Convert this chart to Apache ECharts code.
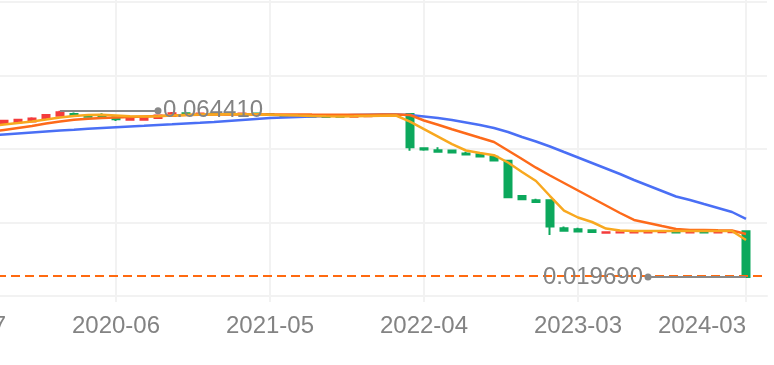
<!DOCTYPE html>
<html>
<head>
<meta charset="utf-8">
<script src="https://cdn.jsdelivr.net/npm/echarts@6/dist/echarts.min.js"></script>
<style>
html,body{margin:0;padding:0;background:#fff;}
#chart{width:774px;height:365px;}
</style>
</head>
<body>
<div id="chart"></div>
<script>
const categories = [
  '2019-07','2019-08','2019-09','2019-10','2019-11','2019-12',
  '2020-01','2020-02','2020-03','2020-04','2020-05','2020-06','2020-07','2020-08','2020-09','2020-10','2020-11','2020-12',
  '2021-01','2021-02','2021-03','2021-04','2021-05','2021-06','2021-07','2021-08','2021-09','2021-10','2021-11','2021-12',
  '2022-01','2022-02','2022-03','2022-04','2022-05','2022-06','2022-07','2022-08','2022-09','2022-10','2022-11','2022-12',
  '2023-01','2023-02','2023-03','2023-04','2023-05','2023-06','2023-07','2023-08','2023-09','2023-10','2023-11','2023-12',
  '2024-01','2024-02','2024-03'
];
const openValues = [
  0.06083,0.06100,0.06115,0.06090,0.06130,0.06150,0.06245,0.06307,0.06352,0.06290,
  0.06305,0.06265,0.06195,0.06200,0.06245,0.06298,0.06370,0.06340,0.06365,0.06345,
  0.06355,0.06365,0.06345,0.06310,0.06295,0.06285,0.06280,0.06280,0.06275,0.06290,
  0.06300,0.06320,0.06352,0.05430,0.05380,0.05370,0.05290,0.05270,0.05200,0.05096,
  0.04147,0.04030,0.04031,0.03280,0.03250,0.03225,0.03160,0.03165,0.03165,0.03168,
  0.03170,0.03178,0.03168,0.03178,0.03168,0.03172,0.03200
];
const closeValues = [
  0.06110,0.06120,0.06135,0.06170,0.06195,0.06230,0.06325,0.06400,0.06307,0.06275,
  0.06285,0.06210,0.06240,0.06270,0.06315,0.06375,0.06340,0.06365,0.06345,0.06360,
  0.06365,0.06345,0.06325,0.06290,0.06280,0.06275,0.06270,0.06275,0.06290,0.06300,
  0.06315,0.06310,0.05457,0.05400,0.05340,0.05320,0.05260,0.05210,0.05100,0.04112,
  0.04060,0.03985,0.03327,0.03215,0.03195,0.03180,0.03170,0.03175,0.03175,0.03176,
  0.03178,0.03168,0.03178,0.03168,0.03178,0.03180,0.01969
];
const lowValues = [
  0.06070,0.06090,0.06105,0.06080,0.06120,0.06140,0.06235,0.06290,0.06300,0.06268,
  0.06280,0.06164,0.06185,0.06190,0.06235,0.06290,0.06330,0.06335,0.06338,0.06340,
  0.06350,0.06340,0.06320,0.06285,0.06275,0.06270,0.06265,0.06270,0.06270,0.06285,
  0.06295,0.06305,0.05365,0.05365,0.05330,0.05315,0.05255,0.05205,0.05095,0.04105,
  0.04050,0.03975,0.03098,0.03205,0.03190,0.03175,0.03155,0.03160,0.03160,0.03162,
  0.03165,0.03162,0.03162,0.03162,0.03162,0.03165,0.01969
];
const highValues = [
  0.06125,0.06135,0.06150,0.06185,0.06215,0.06265,0.06352,0.06441,0.06395,0.06295,
  0.06370,0.06270,0.06248,0.06285,0.06325,0.06405,0.06380,0.06375,0.06370,0.06368,
  0.06372,0.06368,0.06350,0.06315,0.06300,0.06290,0.06285,0.06285,0.06295,0.06305,
  0.06320,0.06325,0.06371,0.05455,0.05460,0.05380,0.05340,0.05275,0.05220,0.05115,
  0.04155,0.04075,0.04045,0.03330,0.03295,0.03235,0.03175,0.03180,0.03180,0.03180,
  0.03182,0.03182,0.03182,0.03182,0.03182,0.03185,0.03210
];
const maShort = [
  0.05949,0.05989,0.06030,0.06070,0.06110,0.06151,0.06204,0.06258,0.06299,0.06325,
  0.06331,0.06312,0.06290,0.06285,0.06290,0.06312,0.06325,0.06336,0.06341,0.06344,
  0.06344,0.06339,0.06331,0.06320,0.06309,0.06299,0.06290,0.06288,0.06290,0.06299,
  0.06307,0.06312,0.06148,0.05943,0.05742,0.05540,0.05371,0.05303,0.05244,0.05048,
  0.04792,0.04551,0.04147,0.03757,0.03569,0.03448,0.03273,0.03219,0.03206,0.03206,
  0.03205,0.03206,0.03204,0.03206,0.03205,0.03206,0.02964
];
const maMid = [
  0.05761,0.05814,0.05868,0.05922,0.05976,0.06030,0.06097,0.06151,0.06196,0.06226,
  0.06245,0.06258,0.06272,0.06285,0.06299,0.06312,0.06325,0.06331,0.06336,0.06340,
  0.06342,0.06343,0.06342,0.06340,0.06338,0.06336,0.06335,0.06334,0.06334,0.06335,
  0.06336,0.06337,0.06325,0.06177,0.06062,0.05943,0.05828,0.05712,0.05599,0.05371,
  0.05142,0.04908,0.04698,0.04497,0.04295,0.04093,0.03892,0.03690,0.03502,0.03421,
  0.03340,0.03260,0.03233,0.03233,0.03225,0.03219,0.03125
];
const maLong = [
  0.05720,0.05747,0.05774,0.05801,0.05828,0.05855,0.05882,0.05909,0.05930,0.05954,
  0.05976,0.05997,0.06016,0.06035,0.06056,0.06075,0.06097,0.06115,0.06137,0.06164,
  0.06191,0.06218,0.06245,0.06258,0.06272,0.06285,0.06299,0.06312,0.06325,0.06333,
  0.06339,0.06339,0.06325,0.06285,0.06245,0.06191,0.06124,0.06056,0.05976,0.05868,
  0.05734,0.05613,0.05478,0.05330,0.05183,0.05035,0.04887,0.04739,0.04577,0.04430,
  0.04282,0.04134,0.04040,0.03932,0.03825,0.03717,0.03529
];
const labelIndices = [0, 11, 22, 33, 44, 56];

const FONT = 'Liberation Sans, Arial, Helvetica, sans-serif';
const TEXT_GRAY = '#838383';
const GRID_GRAY = '#f2f2f2';
const UP = '#f43c3c', DOWN = '#0ca85c';

const candleData = categories.map((c, i) => [openValues[i], closeValues[i], lowValues[i], highValues[i]]);
const lastIdx = categories.length - 1;
let maxIdx = 0, minIdx = 0;
highValues.forEach((v, i) => { if (v > highValues[maxIdx]) maxIdx = i; });
lowValues.forEach((v, i) => { if (v < lowValues[minIdx]) minIdx = i; });
const maxVal = highValues[maxIdx], minVal = lowValues[minIdx];
const lastClose = closeValues[lastIdx];
const showIdx = (i) => labelIndices.indexOf(i) >= 0;

const chart = echarts.init(document.getElementById('chart'), null, {renderer: 'canvas'});
chart.setOption({
  animation: false,
  textStyle: {fontFamily: FONT},
  grid: {left: -45, right: 7, top: -71.5, bottom: 69, containLabel: false, outerBoundsMode: 'none'},
  xAxis: {
    type: 'category',
    data: categories,
    boundaryGap: true,
    max: categories.length,
    axisLine: {show: true, lineStyle: {color: GRID_GRAY, width: 2}},
    axisTick: {show: true, interval: showIdx, alignWithLabel: true, length: 6, lineStyle: {color: GRID_GRAY, width: 2}},
    splitLine: {show: true, interval: showIdx, alignWithLabel: true, lineStyle: {color: GRID_GRAY, width: 2}},
    axisLabel: {
      interval: showIdx,
      margin: 18,
      fontSize: 24,
      color: TEXT_GRAY,
      fontFamily: FONT,
      formatter: (v, i) => i === lastIdx ? '{r|' + v + '}' : v,
      rich: {r: {fontSize: 24, color: TEXT_GRAY, fontFamily: FONT, padding: [0, 88, 0, 0]}}
    }
  },
  yAxis: [
    {
      type: 'value', scale: true, min: 0.014581, max: 0.113405,
      axisLine: {show: false}, axisTick: {show: false}, axisLabel: {show: false}, splitLine: {show: false}
    },
    {
      type: 'value', min: 0, max: 5, interval: 1, position: 'left',
      axisLine: {show: false}, axisTick: {show: false}, axisLabel: {show: false},
      splitLine: {show: true, lineStyle: {color: GRID_GRAY, width: 2}}
    }
  ],
  series: [
    {
      name: 'K', type: 'candlestick', data: candleData, barWidth: 8,
      itemStyle: {color: UP, color0: DOWN, borderColor: UP, borderColor0: DOWN, borderWidth: 2},
      markLine: {
        silent: true, animation: false,
        symbol: ['none', 'none'],
        data: [
          {yAxis: lastClose, symbol: 'none', label: {show: false},
           lineStyle: {color: '#ff6a10', width: 2, type: [9, 5]}},
          [
            {coord: [categories[maxIdx], maxVal], symbol: 'none',
             lineStyle: {color: '#888888', width: 2, type: 'solid'},
             label: {show: true, position: 'end', formatter: () => maxVal.toFixed(6), fontSize: 24, color: TEXT_GRAY, fontFamily: FONT}},
            {coord: [categories[maxIdx + 7], maxVal], symbol: 'circle', symbolSize: 7}
          ],
          [
            {coord: [categories[minIdx], minVal], symbol: 'none',
             lineStyle: {color: '#888888', width: 2, type: 'solid'},
             label: {show: true, position: 'end', formatter: () => minVal.toFixed(6), fontSize: 24, color: TEXT_GRAY, fontFamily: FONT}},
            {coord: [categories[minIdx - 7], minVal], symbol: 'circle', symbolSize: 7}
          ]
        ]
      }
    },
    {name: 'MA20', type: 'line', data: maLong, showSymbol: false, symbol: 'none', lineStyle: {color: '#4a6ff5', width: 2.5}, itemStyle: {color: '#4a6ff5'}},
    {name: 'MA10', type: 'line', data: maMid, showSymbol: false, symbol: 'none', lineStyle: {color: '#fd6a1a', width: 2.5}, itemStyle: {color: '#fd6a1a'}},
    {name: 'MA5', type: 'line', data: maShort, showSymbol: false, symbol: 'none', lineStyle: {color: '#f8a81f', width: 2.5}, itemStyle: {color: '#f8a81f'}}
  ]
});
</script>
</body>
</html>
